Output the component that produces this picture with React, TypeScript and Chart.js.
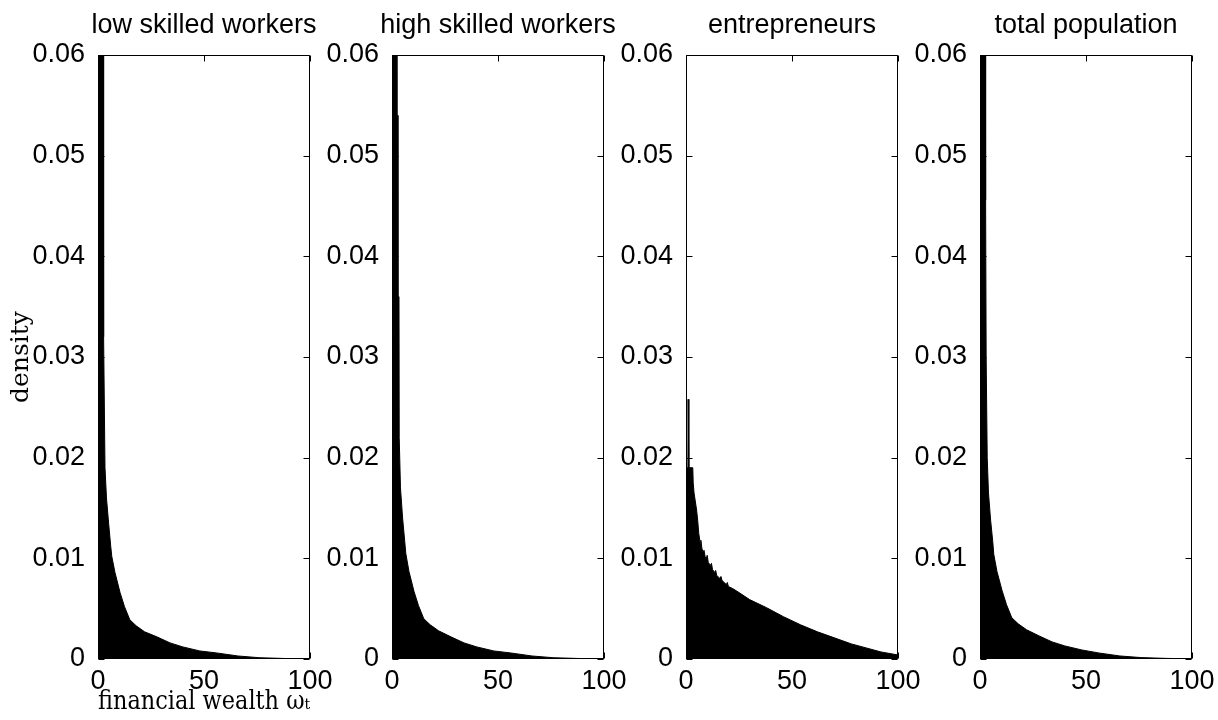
import React, { useEffect, useRef } from "react";
import { Chart, registerables } from "chart.js";

Chart.register(...registerables);

// ---------- data ----------
const TITLES = ["low skilled workers", "high skilled workers", "entrepreneurs", "total population"];
const Y_TICKS = [0, 0.01, 0.02, 0.03, 0.04, 0.05, 0.06];
const X_TICKS = [0, 50, 100];
const X_LABEL = "financial wealth ωₜ";
const Y_LABEL = "density";

const LOW_X = [0, 2.4, 2.5, 2.8, 3.3, 4, 5, 6, 6.5, 8, 10.4, 12.5, 15, 18, 22, 27.8, 34, 40, 48, 56, 66, 76, 88, 100];
const LOW_Y = [0.09, 0.09, 0.045, 0.032, 0.019, 0.016, 0.0135, 0.0112, 0.0102, 0.0086, 0.0066, 0.0052, 0.0039, 0.0033, 0.0027, 0.0022, 0.0016, 0.0012, 0.0008, 0.0006, 0.0003, 0.00013, 0.00005, 0.00002];

const HIGH_X = [0, 2.2, 2.3, 2.7, 2.8, 3.3, 3.4, 4, 5, 6, 6.5, 8, 10.4, 12.5, 15, 18, 22, 27.8, 34, 40, 48, 56, 66, 76, 88, 100];
const HIGH_Y = [0.09, 0.09, 0.054, 0.054, 0.036, 0.036, 0.022, 0.017, 0.014, 0.0117, 0.0105, 0.0087, 0.0067, 0.0053, 0.004, 0.0034, 0.0028, 0.0022, 0.0016, 0.0012, 0.0008, 0.0006, 0.0003, 0.00013, 0.00005, 0.00002];

const ENT_X = [0, 0.9, 1.0, 1.3, 1.4, 3.2, 3.4, 3.8, 4.2, 5, 5.5, 6, 6.5, 6.8, 7, 7.5, 8, 8.5, 9, 9.5, 10, 10.5, 11.5, 12, 12.5, 13.5, 14, 14.5, 16, 16.5, 17, 19, 19.5, 20, 22, 25, 30, 38, 46, 54, 62, 70, 78, 85, 92, 100];
const ENT_Y = [0.019, 0.019, 0.0258, 0.0258, 0.019, 0.019, 0.0175, 0.0165, 0.0165, 0.0148, 0.0138, 0.0125, 0.0118, 0.0113, 0.0118, 0.011, 0.0106, 0.0108, 0.0102, 0.0099, 0.0103, 0.0096, 0.0093, 0.0095, 0.0089, 0.0086, 0.0088, 0.0083, 0.008, 0.0082, 0.0078, 0.0074, 0.0076, 0.0072, 0.007, 0.0066, 0.0059, 0.0051, 0.0042, 0.0034, 0.0027, 0.0021, 0.0015, 0.0011, 0.0007, 0.0004];

const TOTAL_X = [0, 2.4, 2.5, 2.8, 2.9, 3.4, 4, 5, 6, 6.5, 8, 10.4, 12.5, 15, 18, 22, 27.8, 34, 40, 48, 56, 66, 76, 88, 100];
const TOTAL_Y = [0.09, 0.09, 0.0456, 0.0456, 0.03, 0.02, 0.0165, 0.0138, 0.0117, 0.0104, 0.0087, 0.0068, 0.0054, 0.0041, 0.0035, 0.0029, 0.0023, 0.0017, 0.0013, 0.0009, 0.0006, 0.0003, 0.00014, 0.00006, 0.00002];

const SERIES_X = [LOW_X, HIGH_X, ENT_X, TOTAL_X];
const SERIES_Y = [LOW_Y, HIGH_Y, ENT_Y, TOTAL_Y];

// ---------- layout ----------
const PLOT_LEFTS = [98, 392, 686, 980];
const AXIS_W = 98;
const PLOT_W = 212;
const TOP_PAD = 9.6;
const TITLE_GAP = 13;
const BOTTOM_H = 61;
const CANVAS_H = 720;
const SANS = "'Liberation Sans', Arial, sans-serif";
const SERIF = "'DejaVu Serif', serif";

const framePlugin = {
  id: "frame",
  afterDatasetsDraw(chart: any) {
    const { ctx, chartArea: a, scales } = chart;
    const L = 6;
    ctx.save();
    ctx.strokeStyle = "#000";
    ctx.lineWidth = 1;
    const l = Math.round(a.left) + 0.5;
    const r = Math.round(a.right) - 0.5;
    const t = Math.round(a.top) + 0.5;
    const b = Math.round(a.bottom) - 0.5;
    ctx.beginPath();
    ctx.rect(l, t, r - l, b - t);
    for (const v of X_TICKS) {
      const px = Math.round(scales.x.getPixelForValue(v)) + 0.5;
      ctx.moveTo(px, b);
      ctx.lineTo(px, b - L);
      ctx.moveTo(px, t);
      ctx.lineTo(px, t + L);
    }
    for (const v of Y_TICKS) {
      const py = Math.round(scales.y.getPixelForValue(v)) + 0.5;
      ctx.moveTo(l, py);
      ctx.lineTo(l + L, py);
      ctx.moveTo(r, py);
      ctx.lineTo(r - L, py);
    }
    ctx.stroke();
    ctx.restore();
  },
};

function Panel({ index }: { index: number }) {
  const ref = useRef<HTMLCanvasElement>(null);
  useEffect(() => {
    if (!ref.current) return;
    const first = index === 0;
    const xs = SERIES_X[index];
    const ys = SERIES_Y[index];
    const chart = new Chart(ref.current, {
      type: "line",
      data: {
        datasets: [
          {
            data: xs.map((x, i) => ({ x, y: ys[i] })),
            borderColor: "#000",
            backgroundColor: "#000",
            borderWidth: 1,
            pointRadius: 0,
            tension: 0,
            fill: "origin",
          },
        ],
      },
      options: {
        responsive: false,
        animation: false,
        events: [],
        layout: { padding: { top: TOP_PAD, right: 0, left: 0, bottom: 0 } },
        plugins: {
          legend: { display: false },
          tooltip: { enabled: false },
          title: {
            display: true,
            text: TITLES[index],
            color: "#000",
            font: { family: SANS, size: 27, weight: "normal" },
            padding: { top: 0, bottom: TITLE_GAP },
            position: "top",
          },
        },
        scales: {
          x: {
            type: "linear",
            min: 0,
            max: 100,
            grid: { display: false },
            border: { display: false },
            afterBuildTicks: (s: any) => {
              s.ticks = X_TICKS.map((v) => ({ value: v }));
            },
            afterFit: (s: any) => {
              s.height = BOTTOM_H;
            },
            ticks: {
              color: "#000",
              font: { family: SANS, size: 27 },
              padding: -2,
              maxRotation: 0,
              autoSkip: false,
              callback: (v: any) => String(v),
            },
            title: {
              display: first,
              text: X_LABEL,
              color: "#000",
              font: { family: SERIF, size: 26 },
              padding: { top: 0, bottom: 2 },
            },
          },
          y: {
            type: "linear",
            position: "left",
            min: 0,
            max: 0.06,
            grid: { display: false },
            border: { display: false },
            afterBuildTicks: (s: any) => {
              s.ticks = Y_TICKS.map((v) => ({ value: v }));
            },
            afterFit: (s: any) => {
              s.width = AXIS_W;
            },
            ticks: {
              color: "#000",
              font: { family: SANS, size: 27 },
              padding: 5,
              autoSkip: false,
              callback: (v: any) => String(Number(v.toFixed(2))),
            },
            title: {
              display: first,
              text: Y_LABEL,
              color: "#000",
              font: { family: SERIF, size: 25 },
              padding: { top: 6, bottom: 0 },
            },
          },
          yRight: {
            type: "linear",
            position: "right",
            min: 0,
            max: 0.06,
            grid: { display: false },
            border: { display: false },
            ticks: { display: false },
            afterFit: (s: any) => {
              s.width = AXIS_W;
            },
          },
        },
      },
      plugins: [framePlugin],
    });
    return () => chart.destroy();
  }, [index]);
  return (
    <canvas
      ref={ref}
      width={AXIS_W + PLOT_W + AXIS_W}
      height={CANVAS_H}
      style={{ position: "absolute", left: PLOT_LEFTS[index] - AXIS_W, top: 0 }}
    />
  );
}

export default function App() {
  return (
    <div
      style={{
        position: "absolute",
        left: 0,
        top: 0,
        width: 1218,
        height: 720,
        overflow: "hidden",
        background: "#fff",
      }}
    >
      {TITLES.map((_, i) => (
        <Panel key={i} index={i} />
      ))}
    </div>
  );
}
